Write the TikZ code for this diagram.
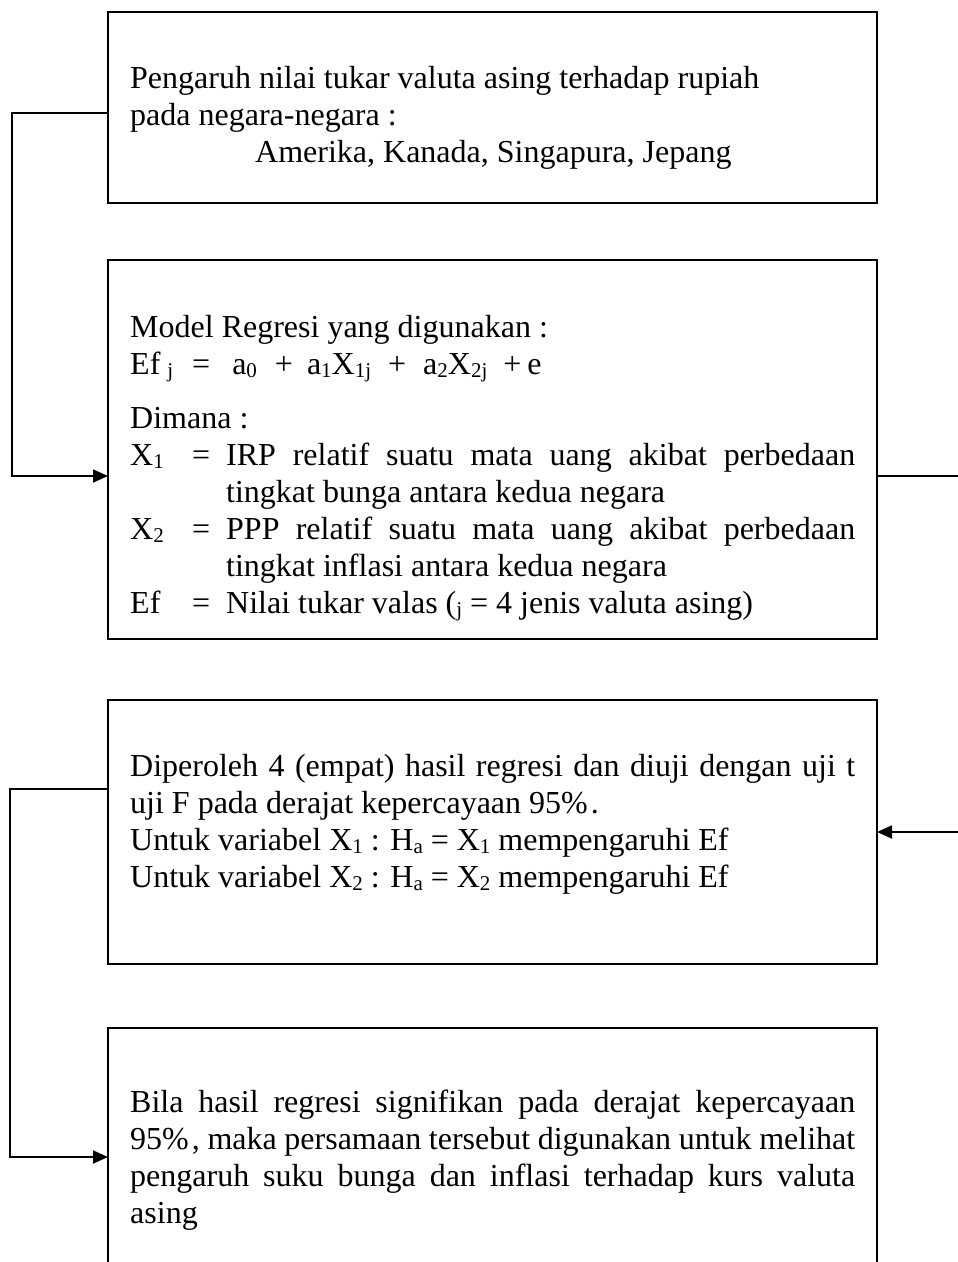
\documentclass[tikz,border=0pt]{standalone}
\usepackage{fontspec}
\setmainfont{Liberation Serif}
\usetikzlibrary{arrows.meta}
\newcommand\sbs[1]{\raisebox{-3pt}{\fontsize{21}{21}\selectfont #1}}
\newcommand\jline[1]{\makebox[725pt][s]{#1}}
\newcommand\itemlbl[2]{\makebox[62pt][l]{#1}\makebox[34pt][l]{#2}}
\begin{document}
\begin{tikzpicture}[x=1pt,y=1pt,
  frame/.style={draw, line width=1.8pt, anchor=north west, inner sep=0pt, outer sep=0pt, minimum width=769pt},
  conn/.style={line width=1.8pt, -{Triangle[length=15pt,width=13pt]}},
  plainline/.style={line width=1.8pt},
  txt/.style={anchor=base west, inner sep=0pt, font=\fontsize{32}{37}\selectfont}]
\useasboundingbox (0,0) rectangle (958,-1262);
\clip (0,0) rectangle (958,-1262);

% boxes
\node[frame, minimum height=191pt] (b1) at (108,-12) {};
\node[frame, minimum height=379pt] (b2) at (108,-260) {};
\node[frame, minimum height=264pt] (b3) at (108,-700) {};
\node[frame, minimum height=320pt] (b4) at (108,-1028) {};

% texts
\node[txt] (t1) at (130,-88) {\parbox[t]{740pt}{Pengaruh nilai tukar valuta asing terhadap rupiah\\
pada negara-negara :\\
\hspace*{125pt}Amerika, Kanada, Singapura, Jepang}};

\node[txt] (t2) at (130,-337) {\parbox[t]{740pt}{Model Regresi yang digunakan :\\
Ef\hspace{7pt}\sbs{j}\hspace{19pt}=\hspace{22pt}a\sbs{0}\hspace{18pt}+\hspace{14pt}a\sbs{1}X\sbs{1j}\hspace{17pt}+\hspace{17pt}a\sbs{2}X\sbs{2j}\hspace{16pt}+\hspace{6pt}e\\[17pt]
Dimana :\\
\itemlbl{X\sbs{1}}{=}\makebox[629pt][s]{IRP relatif suatu mata uang akibat perbedaan}\\
\hspace*{96pt}tingkat bunga antara kedua negara\\
\itemlbl{X\sbs{2}}{=}\makebox[629pt][s]{PPP relatif suatu mata uang akibat perbedaan}\\
\hspace*{96pt}tingkat inflasi antara kedua negara\\
\itemlbl{Ef}{=}Nilai tukar valas (\sbs{j} = 4 jenis valuta asing)}};

\node[txt] (t3) at (130,-776) {\parbox[t]{740pt}{\jline{Diperoleh 4 (empat) hasil regresi dan diuji dengan uji t}\\
uji F pada derajat kepercayaan 95\%\hspace{3pt}.\\
Untuk variabel X\sbs{1} : H\sbs{a} = X\sbs{1} mempengaruhi Ef\\
Untuk variabel X\sbs{2} : H\sbs{a} = X\sbs{2} mempengaruhi Ef}};

\node[txt] (t4) at (130,-1112) {\parbox[t]{740pt}{\jline{Bila hasil regresi signifikan pada derajat kepercayaan}\\
\jline{95\%\hspace{3pt}, maka persamaan tersebut digunakan untuk melihat}\\
\jline{pengaruh suku bunga dan inflasi terhadap kurs valuta}\\
asing}};

% connector points
\coordinate (k1) at (12,-113);
\coordinate (k2) at (12,-476);
\coordinate (k3) at (958,-476);
\coordinate (k4) at (958,-832);
\coordinate (k5) at (10,-789);
\coordinate (k6) at (10,-1157);

\draw[conn] (k1 -| b1.west) -- (k1) -- (k2) -- (k2 -| b2.west);
\draw[plainline] (k3 -| b2.east) -- (k3);
\draw[conn] (k4) -- (k4 -| b3.east);
\draw[conn] (k5 -| b3.west) -- (k5) -- (k6) -- (k6 -| b4.west);
\end{tikzpicture}
\end{document}
